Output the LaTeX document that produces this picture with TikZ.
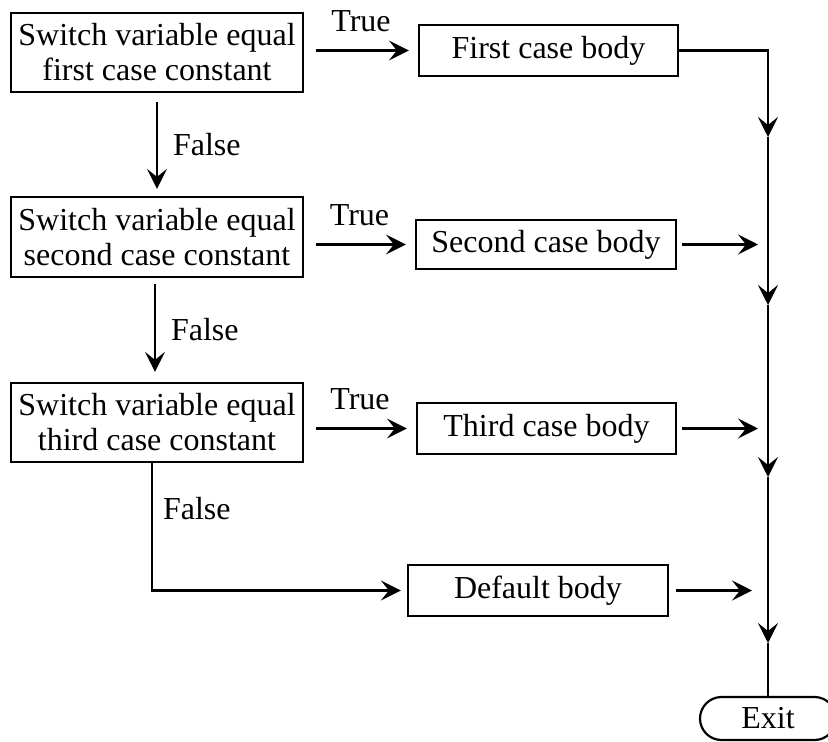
\documentclass[tikz,border=0pt]{standalone}
\usepackage{fontspec}
\setmainfont{Liberation Serif}
\usetikzlibrary{arrows.meta,shapes.misc}

\begin{document}
\begin{tikzpicture}[x=1pt, y=-1pt,
        box/.style={draw, line width=2.2pt, align=center, inner sep=0pt, font=\fontsize{32}{35}\selectfont},
        arr/.style={line width=2.2pt, -{Stealth[length=20pt, width=20pt, inset=8pt]}},
        lbl/.style={font=\fontsize{32}{35}\selectfont, inner sep=0pt}]
        \useasboundingbox (0,0) rectangle (828,742);

        % 判断框
        \node[box, minimum width=292pt, minimum height=79pt] (sw1) at (157,52.5) {Switch variable equal\\first case constant};
        \node[box, minimum width=292pt, minimum height=80pt] (sw2) at (157,237) {Switch variable equal\\second case constant};
        \node[box, minimum width=292pt, minimum height=79pt] (sw3) at (157,422.5) {Switch variable equal\\third case constant};

        % 各分支
        \node[box, minimum width=259pt, minimum height=51pt] (body1) at (548.5,50.5) {First case body};
        \node[box, minimum width=260pt, minimum height=49pt] (body2) at (546,244.5) {Second case body};
        \node[box, minimum width=259pt, minimum height=51pt] (body3) at (546.5,428.5) {Third case body};
        \node[box, minimum width=260pt, minimum height=51pt] (dflt) at (538,590.5) {Default body};
        \node[box, rounded rectangle, minimum width=136pt, minimum height=43pt] (exit) at (768,718.5) {Exit};

        % True 分支
        \draw[arr, shorten <=12pt, shorten >=9pt] (sw1.east |- body1.west) -- (body1.west) node[lbl, midway, above=18pt] {True};
        \draw[arr, shorten <=12pt, shorten >=9pt] (sw2.east |- body2.west) -- (body2.west) node[lbl, midway, above=18pt] {True};
        \draw[arr, shorten <=12pt, shorten >=9pt] (sw3.east |- body3.west) -- (body3.west) node[lbl, midway, above=18pt] {True};

        % False 分支
        \draw[arr, shorten <=9pt, shorten >=7pt] (sw1.south) -- (sw2.north) node[lbl, midway, right=15pt] {False};
        \draw[arr, shorten <=6pt, shorten >=10pt] ([xshift=-2pt]sw2.south) -- ([xshift=-2pt]sw3.north) node[lbl, midway, right=15pt] {False};
        \draw[arr, shorten >=6pt] ([xshift=-5pt]sw3.south) |- (dflt.west) node[lbl, pos=0.18, right=10pt] {False};

        % 右侧汇合线
        \coordinate (m1) at (768,137);
        \coordinate (m2) at (768,305);
        \coordinate (m3) at (768,477);
        \coordinate (m4) at (768,643);
        \draw[arr] (body1.east) -| (m1);
        \draw[arr] (m1) -- (m2);
        \draw[arr] (m2) -- (m3);
        \draw[arr] (m3) -- (m4);
        \draw[line width=2.2pt] (m4) -- (exit.north);

        % 汇入箭头
        \draw[arr, shorten <=5pt, shorten >=10pt] (body2.east) -- (body2.east -| m1);
        \draw[arr, shorten <=5pt, shorten >=10pt] (body3.east) -- (body3.east -| m1);
        \draw[arr, shorten <=7pt, shorten >=16pt] (dflt.east) -- (dflt.east -| m1);
\end{tikzpicture}
\end{document}
